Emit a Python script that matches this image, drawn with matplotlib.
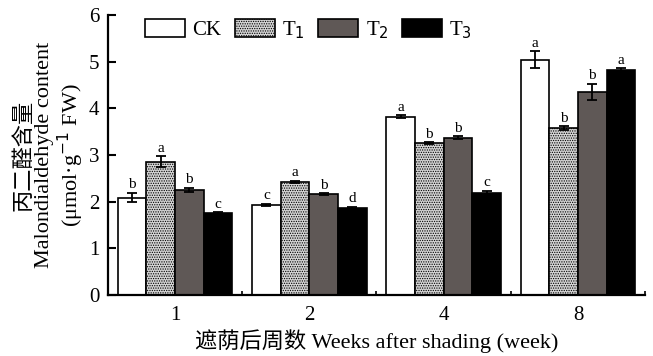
import numpy as np
import matplotlib.pyplot as plt

plt.rcParams['font.family'] = ['Liberation Serif', 'Noto Sans CJK SC']
plt.rcParams['hatch.linewidth'] = 0.6
plt.rcParams['hatch.color'] = '#9a9a9a'

weeks = ['1', '2', '4', '8']
treatments = ['CK', 'T$_1$', 'T$_2$', 'T$_3$']

# malondialdehyde content per treatment (one value per week)
ck = [2.09, 1.93, 3.82, 5.04]
t1 = [2.86, 2.43, 3.25, 3.58]
t2 = [2.25, 2.16, 3.37, 4.35]
t3 = [1.75, 1.87, 2.19, 4.83]

ck_err = [0.10, 0.03, 0.03, 0.18]
t1_err = [0.12, 0.02, 0.02, 0.04]
t2_err = [0.05, 0.02, 0.03, 0.18]
t3_err = [0.02, 0.02, 0.05, 0.03]

ck_sig = ['b', 'c', 'a', 'a']
t1_sig = ['a', 'a', 'b', 'b']
t2_sig = ['b', 'b', 'b', 'b']
t3_sig = ['c', 'd', 'c', 'a']

values = [ck, t1, t2, t3]
errors = [ck_err, t1_err, t2_err, t3_err]
letters = [ck_sig, t1_sig, t2_sig, t3_sig]
colors = ['white', '#d4d4d4', '#5f5856', 'black']
hatches = [None, '.......', None, None]

fig = plt.figure(figsize=(6.53, 3.56), dpi=100)
ax = fig.add_axes([0.165, 0.171, 0.823, 0.787])

x = np.arange(len(weeks))
width = 0.213
for i in range(4):
    pos = x + (i - 1.5) * width
    ax.bar(pos, values[i], width, color=colors[i], edgecolor='black',
           linewidth=1.2, hatch=hatches[i], label=treatments[i])
    ax.errorbar(pos, values[i], yerr=errors[i], fmt='none', ecolor='black',
                elinewidth=1.3, capsize=3.8, capthick=1.3)
    for p, v, e, s in zip(pos, values[i], errors[i], letters[i]):
        ax.text(p, v + e + 0.03, s, ha='center', va='bottom', fontsize=11)

ax.set_xlim(-0.5, 3.5)
ax.set_ylim(0, 6)
ax.set_xticks(x)
ax.set_xticklabels(weeks)
ax.set_xticks([0.5, 1.5, 2.5, 3.5], minor=True)
ax.tick_params(axis='x', which='major', length=0, labelsize=15, pad=8)
ax.tick_params(axis='x', which='minor', direction='in', length=3, width=1.2)
ax.set_yticks(range(7))
ax.tick_params(axis='y', direction='in', length=6, width=1.5, labelsize=15, pad=6)

for side in ['top', 'right']:
    ax.spines[side].set_visible(False)
for side in ['left', 'bottom']:
    ax.spines[side].set_linewidth(1.6)

ax.set_ylabel('丙二醛含量\nMalondialdehyde content\n(μmol·g$^{-1}$ FW)',
              fontsize=16, linespacing=1.08, labelpad=2)
ax.set_xlabel('遮荫后周数 Weeks after shading (week)', fontsize=16, labelpad=3)

ax.legend(loc='upper left', bbox_to_anchor=(0.069, 0.985), ncol=4, frameon=False,
          fontsize=15, handlelength=1.92, handleheight=0.96, columnspacing=0.65,
          handletextpad=0.35, borderpad=0, borderaxespad=0)

plt.savefig('out.png', dpi=100)
